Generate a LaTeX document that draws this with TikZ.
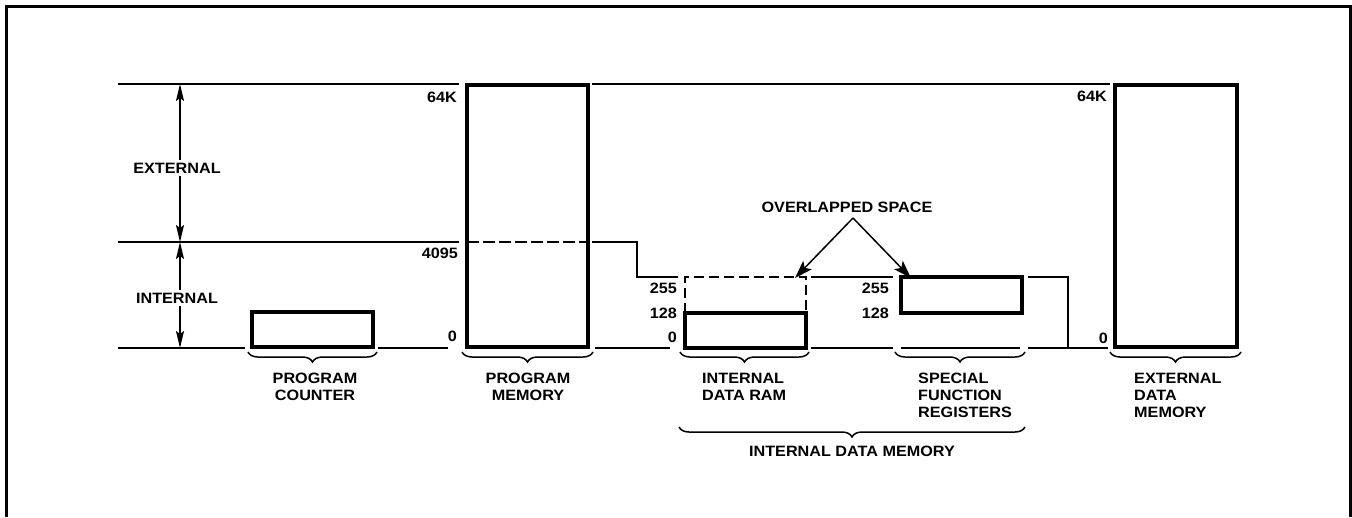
\documentclass[tikz,border=0pt]{standalone}
\usepackage{fontspec}
\newfontfamily\labfont[FakeStretch=1.08]{Liberation Sans}
\usetikzlibrary{arrows.meta,decorations.pathreplacing}
\tikzset{
  thinln/.style={line width=1.6pt},
  thickbox/.style={draw,line width=3.6pt,inner sep=0pt,outer sep=0pt,anchor=north west},
  lab/.style={font=\labfont\bfseries\fontsize{15}{17}\selectfont,inner sep=0pt},
  num/.style={lab,anchor=east},
  brc/.style={decorate,decoration={brace,mirror,amplitude=10pt},line width=1.5pt},
  dimarrow/.style={thinln,{Stealth[length=17pt,width=8pt,inset=3pt]}-{Stealth[length=17pt,width=8pt,inset=3pt]}},
  ptr/.style={line width=1.5pt,-{Stealth[length=18pt,width=12pt,inset=4pt]}},
  dsh/.style={thinln,dash pattern=on 10pt off 5pt}
}
\begin{document}
\begin{tikzpicture}[x=1pt,y=-1pt]
\useasboundingbox (0,0) rectangle (1352,517);
% frame
\draw[line width=3pt] (6,517) -- (6,6) -- (1350,6) -- (1350,517);
% boxes
\node[thickbox,minimum width=121pt,minimum height=35pt] (pc) at (252,312) {};
\node[thickbox,minimum width=121pt,minimum height=262pt] (pm) at (467,85) {};
\node[thickbox,minimum width=121pt,minimum height=35pt] (idr) at (685,313) {};
\node[thickbox,minimum width=121pt,minimum height=36pt] (sfr) at (901,277) {};
\node[thickbox,minimum width=122pt,minimum height=262pt] (edm) at (1115,85) {};
% dashed upper part of internal data RAM
\coordinate (idrtl) at (685,277);
\coordinate (idrtr) at (806,277);
\draw[dsh] (idr.north west) -- (idrtl) -- (idrtr) -- (idr.north east);
% scale lines
\coordinate (l64) at (118,84);
\coordinate (l4k) at (118,242);
\coordinate (l0) at (118,348);
\draw[thinln] (l64) -- (459,84);
\draw[thinln] (592,84) -- (1110,84);
\draw[thinln] (l4k) -- (459,242);
\draw[dsh,dash pattern=on 12pt off 4pt] (467,242) -- (588,242);
\draw[thinln] (592,242) -- (637,242) -- (637,277) -- (678,277);
\draw[thinln] (811,277) -- (893,277);
\draw[thinln] (1028,277) -- (1068,277) -- (1068,348);
\draw[thinln] (l0) -- (245,348);
\draw[thinln] (378,348) -- (448,348);
\draw[thinln] (595,348) -- (670,348);
\draw[thinln] (811,348) -- (893,348);
\draw[thinln] (901,348) -- (1020,348);
\draw[thinln] (1028,348) -- (1108,348);
% dimension arrows
\coordinate (a1) at (180,84);
\coordinate (a2) at (180,242);
\coordinate (a3) at (180,348);
\draw[dimarrow] (a1) -- (a2);
\draw[dimarrow] (a2) -- (a3);
\node[lab,fill=white,inner sep=3pt] (ext) at (177,168) {EXTERNAL};
\node[lab,fill=white,inner sep=3pt] (int) at (177,298) {INTERNAL};
% address labels
\node[num] (pm64) at (457,97) {64K};
\node[num] (pm4k) at (458,253) {4095};
\node[num] (pm0) at (457,336) {0};
\node[num] (i255) at (677,288) {255};
\node[num] (i128) at (677,313) {128};
\node[num] (i0) at (677,337) {0};
\node[num] (s255) at (889,288) {255};
\node[num] (s128) at (889,313) {128};
\node[num] (e64) at (1107,96) {64K};
\node[num] (e0) at (1108,338) {0};
% overlapped space
\node[lab] (ov) at (847,207) {OVERLAPPED SPACE};
\coordinate (ovs) at (853,218);
\coordinate (ovl) at (795,278);
\coordinate (ovr) at (911,278);
\draw[ptr] (ovs) -- (ovl);
\draw[ptr] (ovs) -- (ovr);
% braces
\draw[brc] (248,352) -- (377,352);
\draw[brc] (462,352) -- (593,352);
\draw[brc] (680,352) -- (809,352);
\draw[brc] (895,352) -- (1025,352);
\draw[brc] (1110,352) -- (1241,352);
\draw[brc] (679,427) -- (1025,427);
% bottom labels
\node[lab,align=center,anchor=north] (pcl) at (315,373) {PROGRAM\\COUNTER};
\node[lab,align=center,anchor=north] (pml) at (528,373) {PROGRAM\\MEMORY};
\node[lab,align=left,anchor=north west] (idrl) at (702,373) {INTERNAL\\DATA RAM};
\node[lab,align=left,anchor=north west] (sfrl) at (918,373) {SPECIAL\\FUNCTION\\REGISTERS};
\node[lab,align=left,anchor=north west] (edml) at (1134,373) {EXTERNAL\\DATA\\MEMORY};
\node[lab] (idm) at (852,451) {INTERNAL DATA MEMORY};
\end{tikzpicture}
\end{document}
